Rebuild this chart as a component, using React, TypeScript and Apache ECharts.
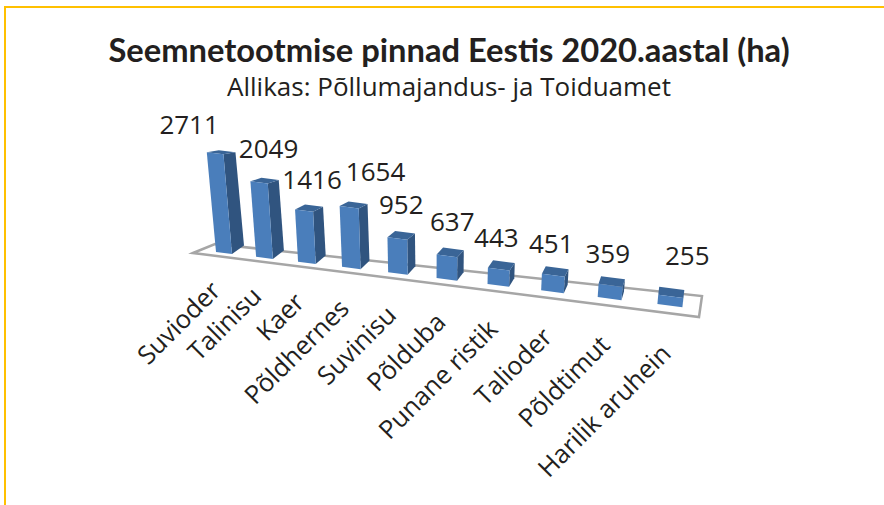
import React, { useEffect, useRef } from "react";
import * as echarts from "echarts";

const titleText = "Seemnetootmise pinnad Eestis 2020.aastal (ha)";
const subtitleText = "Allikas: Põllumajandus- ja Toiduamet";
const categories = ["Suvioder", "Talinisu", "Kaer", "Põldhernes", "Suvinisu", "Põlduba", "Punane ristik", "Talioder", "Põldtimut", "Harilik aruhein"];
const hectares = [2711, 2049, 1416, 1654, 952, 637, 443, 451, 359, 255];

// Hand-placed data label nudges from the bar's top (the original has dragged labels)
const labelNudges = [[-32, -28], [4, -33], [3, -31], [22, -35], [0, -33], [2, -34], [-5, -31], [-4, -31], [-4, -31], [16, -40]];

const GRID_LEFT = 196.4, BAND = 39.2, GRID_WIDTH = BAND * 10, BASE_Y = 252, VALUE_MAX = 3000, VALUE_PX = 0.0368;
const X0 = GRID_LEFT + BAND / 2;
const TITLE_FONT = "Lato";
const FONT = "Open Sans";
const INK = "#231f20";

// Perspective of the floor: depth compresses on the left and widens on the right
function floorX(u: number) {
  const t = (u - X0) / BAND;
  return X0 + (u - X0) / (1 - 0.0223 * t);
}
const floorY = (x: number, baseY: number) => baseY + 0.118 * (x - X0);
const lean = (x: number) => (436 - x) * 0.00042;

function renderBar(params: any, api: any) {
  const i = params.dataIndex;
  const bottom = api.coord([i, 0]);
  const top = api.coord([i, api.value(1)]);
  const h = bottom[1] - top[1];
  const xl = floorX(bottom[0]);
  const w = 16 + (xl - X0) * 0.0204;
  const xr = xl + w;
  const yl = floorY(xl, bottom[1]);
  const yr = yl + w * 0.13;
  const dx = 12 - (xl - X0) * 0.025;
  const dyBase = -8.5;
  const dyTop = -8.5 + h * 0.065;
  const tl = [xl - h * lean(xl), yl - h];
  const tr = [xr - h * lean(xr), yr - h];
  const trb = [tr[0] + dx, tr[1] + dyTop];
  const tlb = [tl[0] + dx, tl[1] + dyTop];
  const br = [xr, yr];
  const brb = [xr + dx, yr + dyBase];
  const nudge = labelNudges[i];
  const cx = (tl[0] + trb[0]) / 2;
  return {
    type: "group",
    children: [
      { type: "polygon", shape: { points: [tr, trb, brb, br] }, style: { fill: "#30547f" } },
      { type: "polygon", shape: { points: [tl, tr, trb, tlb] }, style: { fill: "#3a6597" } },
      { type: "polygon", shape: { points: [tl, tr, br, [xl, yl]] }, style: { fill: "#4a7ebb" } },
      {
        type: "text",
        x: cx + nudge[0],
        y: tl[1] + nudge[1],
        style: { text: String(api.value(1)), fill: INK, font: `26px '${FONT}'`, align: "center", verticalAlign: "middle" },
      },
      {
        type: "text",
        x: xr - 17,
        y: yr + 31 + (xl - X0) * 0.022,
        rotation: Math.PI / 4,
        style: { text: categories[i], fill: INK, font: `25.5px '${FONT}'`, align: "right", verticalAlign: "middle" },
      },
    ],
  };
}

export default function App() {
  const ref = useRef<HTMLDivElement>(null);
  useEffect(() => {
    const chart = echarts.init(ref.current!, null, { renderer: "svg" });
    chart.setOption({
      animation: false,
      backgroundColor: "#ffffff",
      title: {
        text: titleText,
        subtext: subtitleText,
        left: 444,
        top: 28,
        textAlign: "center",
        itemGap: 7,
        textStyle: { fontFamily: TITLE_FONT, fontWeight: "bold", fontSize: 32.7, color: INK },
        subtextStyle: { fontFamily: FONT, fontSize: 26, color: INK },
      },
      grid: { left: GRID_LEFT, width: GRID_WIDTH, top: BASE_Y - VALUE_MAX * VALUE_PX, height: VALUE_MAX * VALUE_PX },
      xAxis: { type: "category", data: categories, show: false },
      yAxis: { type: "value", min: 0, max: VALUE_MAX, show: false },
      graphic: [
        { type: "polyline", z: 0, shape: { points: [[884, 7], [5, 7], [5, 505]] }, style: { stroke: "#ffc000", lineWidth: 2, fill: "none" } },
        { type: "polygon", z: 0, shape: { points: [[193, 253], [215, 244], [702, 296], [699, 317]] }, style: { stroke: "#a6a6a6", lineWidth: 2.5, fill: "#ffffff" } },
      ],
      series: [
        {
          type: "custom",
          coordinateSystem: "cartesian2d",
          data: hectares.map((v, i) => [i, v]),
          encode: { x: 0, y: 1 },
          clip: false,
          renderItem: renderBar,
        },
      ],
    });
    return () => chart.dispose();
  }, []);
  return <div ref={ref} style={{ position: "absolute", left: 0, top: 0, width: 884, height: 505 }} />;
}
